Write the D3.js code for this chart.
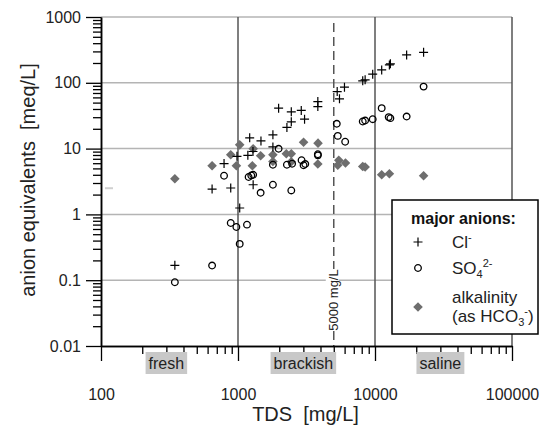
<!DOCTYPE html>
<html>
<head>
<meta charset="utf-8">
<script src="https://cdn.jsdelivr.net/npm/d3@7"></script>
<style>
  body { margin: 0; background: #fff; }
  svg { font-family: "Liberation Sans", Arial, sans-serif; }
</style>
</head>
<body>
<svg id="chart"></svg>
<script>
// axis ticks
const xTicks = [100, 1000, 10000, 100000];
const yTicks = [0.01, 0.1, 1, 10, 100, 1000];

// salinity classes, label centred on a TDS value
const zoneNames = ['fresh', 'brackish', 'saline'];
const zoneCentres = [300, 3000, 30000];
const limitTds = 5000;

// [TDS mg/L, meq/L]
const chloride = [
  [346, 0.168], [647, 2.43], [791, 5.92], [885, 2.52], [983, 7.64], [1029, 1.25],
  [1180, 7.91], [1217, 14.6], [1286, 9.04], [1290, 2.82], [1471, 13.1], [1798, 16.2],
  [1798, 10.6], [1979, 41.2], [2275, 21.0], [2449, 36.2], [2449, 25.5], [2896, 38.1],
  [3061, 28.0], [3826, 51.9], [3826, 43.5], [5297, 73.5], [5505, 57.0], [5986, 85.8],
  [8136, 107], [8472, 111], [9621, 135], [11190, 157], [12733, 187], [12950, 194],
  [17018, 265], [22630, 291]
];
const sulfate = [
  [346, 0.093], [647, 0.167], [791, 3.87], [885, 0.74], [973, 0.644], [1029, 0.356],
  [1163, 0.698], [1195, 3.7], [1250, 3.9], [1290, 4.0], [1463, 2.13], [1798, 5.68],
  [1798, 2.82], [1979, 9.93], [2275, 5.68], [2449, 2.31], [2482, 5.88], [2911, 6.65],
  [3010, 5.58], [3097, 5.82], [3826, 8.2], [3830, 7.9], [5260, 23.8], [5350, 15.6],
  [6057, 12.7], [8136, 25.8], [8472, 26.7], [9621, 28.0], [11190, 41.2], [12585, 30.1],
  [12950, 29.0], [17018, 30.7], [22630, 87.6]
];
const alkalinity = [
  [346, 3.48], [647, 5.48], [885, 8.05], [973, 5.48], [1029, 11.4], [1290, 9.93],
  [1273, 5.48], [1463, 7.78], [1798, 8.05], [1798, 6.37], [2252, 8.34], [2449, 8.34],
  [2449, 6.31], [3010, 12.5], [3839, 12.1], [3826, 5.82], [5440, 6.65], [5350, 5.58],
  [6088, 6.03], [8136, 5.35], [8472, 5.24], [11190, 4.0], [12733, 4.15], [22630, 3.87]
];

const W = 549, H = 427;
const margin = { top: 17, right: 37, bottom: 81, left: 101 };
const width = W - margin.left - margin.right;
const height = H - margin.top - margin.bottom;

const svg = d3.select('#chart').attr('width', W).attr('height', H);
const g = svg.append('g').attr('transform', `translate(${margin.left},${margin.top})`);

const x = d3.scaleLog().domain([100, 100000]).range([0, width]);
const y = d3.scaleLog().domain([0.01, 1000]).range([height, 0]);

// minor ticks 2..9 in each decade
const minors = (ticks) => ticks.slice(0, -1).flatMap(t => d3.range(2, 10).map(k => t * k));

// horizontal grid
g.append('g').selectAll('line').data(yTicks.slice(1)).join('line')
  .attr('x1', 0).attr('x2', width)
  .attr('y1', d => y(d)).attr('y2', d => y(d))
  .attr('stroke', '#b4b4b4').attr('stroke-width', 1.5);

// vertical dividers
g.append('g').selectAll('line').data(xTicks.slice(1)).join('line')
  .attr('x1', d => x(d)).attr('x2', d => x(d))
  .attr('y1', 0).attr('y2', height)
  .attr('stroke', '#555').attr('stroke-width', 1.5);

// 5000 mg/L dashed line
g.append('line')
  .attr('x1', x(limitTds)).attr('x2', x(limitTds))
  .attr('y1', 6).attr('y2', height)
  .attr('stroke', '#555').attr('stroke-width', 1.5)
  .attr('stroke-dasharray', '9,5');

const limitLabel = g.append('g')
  .attr('transform', `translate(${x(limitTds)},${y(0.05)}) rotate(-90)`);
limitLabel.append('rect')
  .attr('x', -31).attr('y', -8).attr('width', 62).attr('height', 13)
  .attr('fill', '#fff');
limitLabel.append('text')
  .attr('text-anchor', 'middle').attr('y', 4)
  .attr('font-size', 13).attr('fill', '#222')
  .text('5000 mg/L');

// small grey mark left in the plot
g.append('rect')
  .attr('x', 4).attr('y', y(2.5) - 1).attr('width', 8).attr('height', 2)
  .attr('fill', '#d0d0d0');

// axes
g.append('g')
  .call(d3.axisLeft(y).tickValues(yTicks).tickSize(15).tickSizeOuter(0).tickPadding(5).tickFormat(d => String(d)));
g.append('g')
  .call(d3.axisLeft(y).tickValues(minors(yTicks)).tickSize(8).tickSizeOuter(0).tickFormat(''));

g.append('g').attr('transform', `translate(0,${height})`)
  .call(d3.axisBottom(x).tickValues(xTicks).tickSize(15).tickSizeOuter(0).tickPadding(28).tickFormat(d => String(d)));
g.append('g').attr('transform', `translate(0,${height})`)
  .call(d3.axisBottom(x).tickValues(minors(xTicks)).tickSize(8).tickSizeOuter(0).tickFormat(''));

g.selectAll('.domain').attr('stroke', '#000').attr('stroke-width', 1.5);
g.selectAll('.tick line').attr('stroke', '#000').attr('stroke-width', 1.3);
g.selectAll('.tick text').attr('font-size', 16).attr('fill', '#222');

// salinity class labels
const zones = g.append('g').selectAll('g').data(zoneNames).join('g')
  .attr('transform', (d, i) => `translate(${x(zoneCentres[i])},${height + 23})`);
zones.append('text')
  .attr('text-anchor', 'middle').attr('font-size', 16).attr('fill', '#222')
  .text(d => d)
  .each(function () {
    const b = this.getBBox();
    d3.select(this.parentNode).insert('rect', 'text')
      .attr('x', b.x - 3).attr('y', -17).attr('width', b.width + 6).attr('height', 22)
      .attr('fill', '#c8c8c8');
  });

// axis titles
svg.append('text')
  .attr('x', margin.left + width / 2 - 1).attr('y', 421)
  .attr('text-anchor', 'middle').attr('font-size', 20).attr('fill', '#222')
  .style('white-space', 'pre')
  .text('TDS  [mg/L]');
svg.append('text')
  .attr('transform', `translate(35,${margin.top + 163}) rotate(-90)`)
  .attr('text-anchor', 'middle').attr('font-size', 20).attr('fill', '#222')
  .style('white-space', 'pre')
  .text('anion equivalents  [meq/L]');

// markers
const plus = (sel) => sel.append('path')
  .attr('d', 'M-4.5,0H4.5M0,-4.5V4.5')
  .attr('stroke', '#000').attr('stroke-width', 1.2).attr('fill', 'none');
const ring = (sel) => sel.append('circle')
  .attr('r', 3.3).attr('fill', 'none').attr('stroke', '#000').attr('stroke-width', 1.3);
const diamond = (sel) => sel.append('path')
  .attr('d', 'M0,-4.8L4.8,0L0,4.8L-4.8,0Z')
  .attr('fill', '#6e6e6e');

const pts = g.append('g');
pts.append('g').selectAll('g').data(alkalinity).join('g')
  .attr('transform', d => `translate(${x(d[0])},${y(d[1])})`).call(diamond);
pts.append('g').selectAll('g').data(sulfate).join('g')
  .attr('transform', d => `translate(${x(d[0])},${y(d[1])})`).call(ring);
pts.append('g').selectAll('g').data(chloride).join('g')
  .attr('transform', d => `translate(${x(d[0])},${y(d[1])})`).call(plus);

// legend
const lg = svg.append('g').attr('transform', 'translate(392,200)');
lg.append('rect').attr('width', 146).attr('height', 134)
  .attr('fill', '#fff').attr('stroke', '#000').attr('stroke-width', 1.5);
lg.append('text').attr('x', 19).attr('y', 24)
  .attr('font-size', 16).attr('font-weight', 'bold').attr('fill', '#111')
  .text('major anions:');

lg.append('g').attr('transform', 'translate(26,42)').call(plus);
lg.append('g').attr('transform', 'translate(26,68)').call(ring);
lg.append('g').attr('transform', 'translate(26,107)').call(diamond);

const t1 = lg.append('text').attr('x', 60).attr('y', 48).attr('font-size', 17).attr('fill', '#222');
t1.append('tspan').text('Cl');
t1.append('tspan').attr('font-size', 11).attr('dy', -7).text('-');

const t2 = lg.append('text').attr('x', 60).attr('y', 74).attr('font-size', 17).attr('fill', '#222');
t2.append('tspan').text('SO');
t2.append('tspan').attr('font-size', 11).attr('dy', 4).text('4');
t2.append('tspan').attr('font-size', 11).attr('dy', -11).text('2-');

lg.append('text').attr('x', 60).attr('y', 103).attr('font-size', 17).attr('fill', '#222')
  .text('alkalinity');
const t3 = lg.append('text').attr('x', 60).attr('y', 122).attr('font-size', 17).attr('fill', '#222');
t3.append('tspan').text('(as HCO');
t3.append('tspan').attr('font-size', 11).attr('dy', 4).text('3');
t3.append('tspan').attr('font-size', 11).attr('dy', -11).text('-');
t3.append('tspan').attr('dy', 7).text(')');
</script>
</body>
</html>
